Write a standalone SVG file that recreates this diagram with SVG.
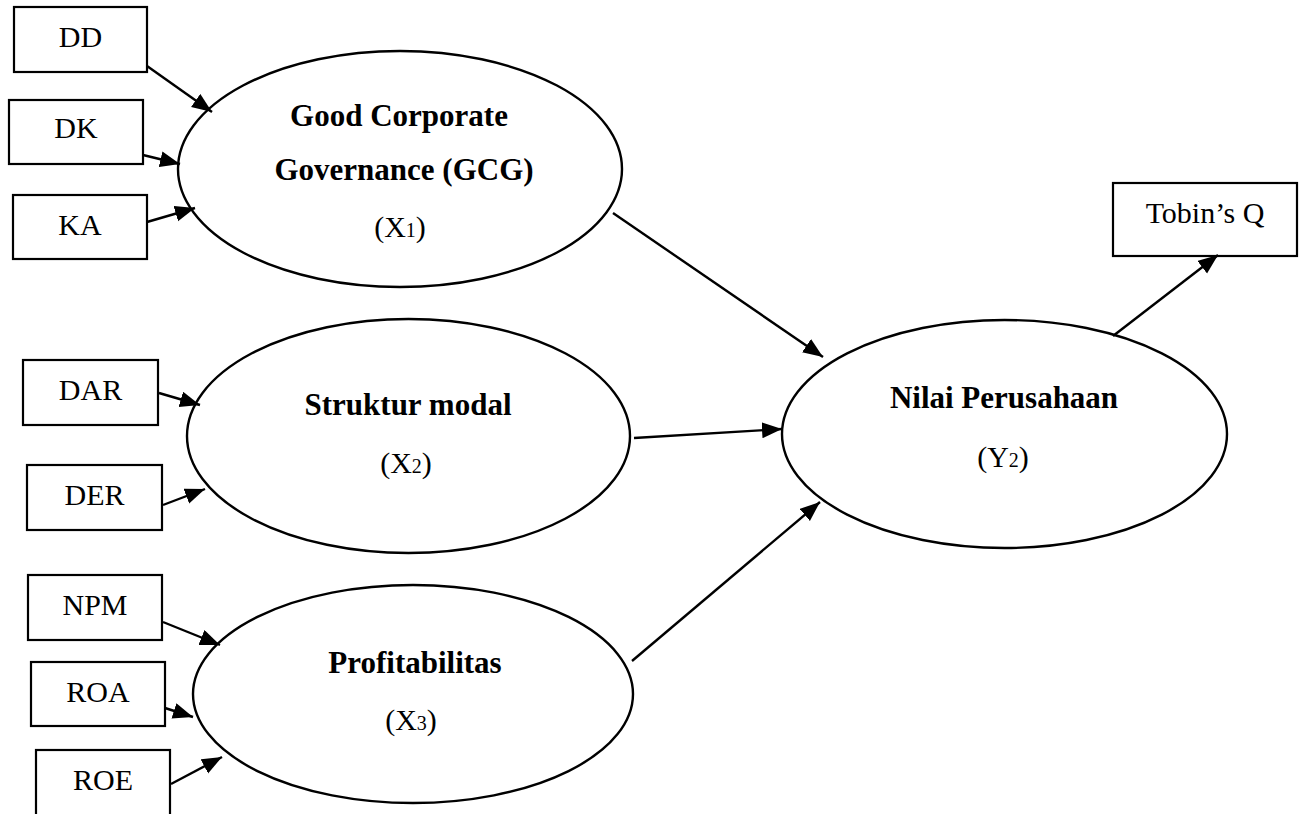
<svg xmlns="http://www.w3.org/2000/svg" width="1304" height="814" viewBox="0 0 1304 814">
<style>
.box{fill:#fff;stroke:#000;stroke-width:2.2}
.ell{fill:#fff;stroke:#000;stroke-width:2.4}
.lbl{font-family:"Liberation Serif","Times New Roman",serif;font-size:30px;fill:#000;text-anchor:middle}
.bold{font-family:"Liberation Serif","Times New Roman",serif;font-size:31px;font-weight:bold;fill:#000;text-anchor:middle}
.sub{font-size:20px}
.edge{stroke:#000;stroke-width:2.4;fill:none;marker-end:url(#arr)}
</style>
<defs>
<marker id="arr" markerUnits="userSpaceOnUse" markerWidth="21" markerHeight="17" refX="20" refY="8" orient="auto">
<path d="M0,0 L20,8 L0,16 z" fill="#000"/>
</marker>
</defs>
<rect width="1304" height="814" fill="#fff"/>

<g id="ind-DD"><rect class="box" x="14" y="7" width="133" height="65"/><text class="lbl" x="80.5" y="47">DD</text></g>
<g id="ind-DK"><rect class="box" x="9" y="100" width="134" height="64"/><text class="lbl" x="76" y="138">DK</text></g>
<g id="ind-KA"><rect class="box" x="13" y="195" width="134" height="64"/><text class="lbl" x="80" y="235">KA</text></g>
<g id="ind-DAR"><rect class="box" x="23" y="360" width="135" height="65"/><text class="lbl" x="90.5" y="400">DAR</text></g>
<g id="ind-DER"><rect class="box" x="27" y="465" width="135" height="65"/><text class="lbl" x="94.5" y="505">DER</text></g>
<g id="ind-NPM"><rect class="box" x="28" y="575" width="134" height="65"/><text class="lbl" x="95" y="615">NPM</text></g>
<g id="ind-ROA"><rect class="box" x="31" y="662" width="134" height="64"/><text class="lbl" x="98" y="702">ROA</text></g>
<g id="ind-ROE"><rect class="box" x="36" y="750" width="134" height="66"/><text class="lbl" x="103" y="790">ROE</text></g>
<g id="ind-TobinQ"><rect class="box" x="1113" y="183" width="184" height="73"/><text class="lbl" x="1205" y="223">Tobin’s Q</text></g>

<g id="GCG"><ellipse class="ell" cx="400" cy="169" rx="222" ry="118"/>
<text class="bold" x="399" y="126">Good Corporate</text>
<text class="bold" x="404" y="180">Governance (GCG)</text>
<text class="lbl" x="400" y="237">(X<tspan class="sub">1</tspan>)</text></g>

<g id="StrukturModal"><ellipse class="ell" cx="408.5" cy="436" rx="221.5" ry="117"/>
<text class="bold" x="408" y="415">Struktur modal</text>
<text class="lbl" x="406" y="473">(X<tspan class="sub">2</tspan>)</text></g>

<g id="Profitabilitas"><ellipse class="ell" cx="413" cy="694" rx="220" ry="109"/>
<text class="bold" x="415" y="673">Profitabilitas</text>
<text class="lbl" x="411" y="730">(X<tspan class="sub">3</tspan>)</text></g>

<g id="NilaiPerusahaan"><ellipse class="ell" cx="1004.5" cy="434" rx="222.5" ry="114"/>
<text class="bold" x="1004" y="408">Nilai Perusahaan</text>
<text class="lbl" x="1003" y="467">(Y<tspan class="sub">2</tspan>)</text></g>

<g id="connectors">
<line class="edge" x1="147" y1="66" x2="212" y2="112"/>
<line class="edge" x1="143" y1="155" x2="180" y2="164"/>
<line class="edge" x1="147" y1="222" x2="195" y2="208"/>
<line class="edge" x1="159" y1="393" x2="200" y2="405"/>
<line class="edge" x1="163" y1="505" x2="205" y2="489"/>
<line class="edge" x1="163" y1="622" x2="220" y2="645"/>
<line class="edge" x1="165" y1="708" x2="193" y2="717"/>
<line class="edge" x1="171" y1="784" x2="222" y2="757"/>
<line class="edge" x1="613" y1="213" x2="823" y2="357"/>
<line class="edge" x1="634" y1="438" x2="782" y2="429"/>
<line class="edge" x1="632" y1="661" x2="820" y2="502"/>
<line class="edge" x1="1113" y1="336" x2="1218" y2="255"/>
</g>
</svg>
